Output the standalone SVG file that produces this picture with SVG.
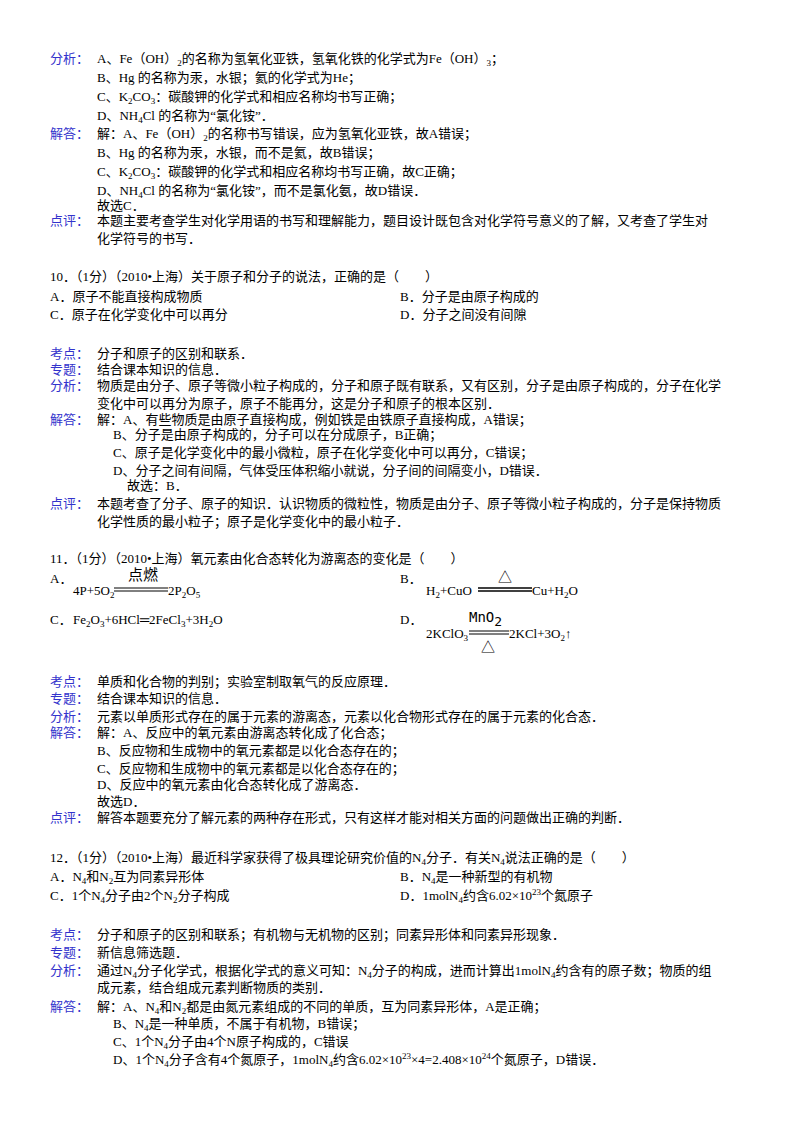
<svg xmlns="http://www.w3.org/2000/svg" width="800" height="1132" viewBox="0 0 800 1132">
<style>
text{font-family:"Liberation Serif","Noto Sans CJK SC",serif;font-size:13px;fill:#000}
.l{fill:#3333cc}
.s{font-size:9px}
</style>
<rect width="800" height="1132" fill="#fff"/>
<g id="q9">
<text x="50" y="63" class="l">分析：</text>
<text x="97" y="63">A、Fe（OH）<tspan class="s" dy="3">2</tspan><tspan dy="-3">的名称为氢氧化亚铁，氢氧化铁的化学式为Fe（OH）</tspan><tspan class="s" dy="3">3</tspan><tspan dy="-3">；</tspan></text>
<text x="97" y="82">B、Hg 的名称为汞，水银；氦的化学式为He；</text>
<text x="97" y="101">C、K<tspan class="s" dy="3">2</tspan><tspan dy="-3">CO</tspan><tspan class="s" dy="3">3</tspan><tspan dy="-3">：碳酸钾的化学式和相应名称均书写正确；</tspan></text>
<text x="97" y="120">D、NH<tspan class="s" dy="3">4</tspan><tspan dy="-3">Cl 的名称为“氯化铵”．</tspan></text>
<text x="50" y="138" class="l">解答：</text>
<text x="97" y="138">解：A、Fe（OH）<tspan class="s" dy="3">2</tspan><tspan dy="-3">的名称书写错误，应为氢氧化亚铁，故A错误；</tspan></text>
<text x="97" y="157">B、Hg 的名称为汞，水银，而不是氦，故B错误；</text>
<text x="97" y="176">C、K<tspan class="s" dy="3">2</tspan><tspan dy="-3">CO</tspan><tspan class="s" dy="3">3</tspan><tspan dy="-3">：碳酸钾的化学式和相应名称均书写正确，故C正确；</tspan></text>
<text x="97" y="195">D、NH<tspan class="s" dy="3">4</tspan><tspan dy="-3">Cl 的名称为“氯化铵”，而不是氯化氨，故D错误．</tspan></text>
<text x="97" y="210">故选C．</text>
<text x="50" y="225" class="l">点评：</text>
<text x="97" y="225">本题主要考查学生对化学用语的书写和理解能力，题目设计既包含对化学符号意义的了解，又考查了学生对</text>
<text x="97" y="243">化学符号的书写．</text>
</g>
<g id="q10">
<text x="50" y="281">10．（1分）（2010•上海）关于原子和分子的说法，正确的是（　　）</text>
<text x="50" y="301">A．原子不能直接构成物质</text>
<text x="400" y="301">B．分子是由原子构成的</text>
<text x="50" y="319">C．原子在化学变化中可以再分</text>
<text x="400" y="319">D．分子之间没有间隙</text>
<text x="50" y="358" class="l">考点：</text>
<text x="97" y="358">分子和原子的区别和联系．</text>
<text x="50" y="374" class="l">专题：</text>
<text x="97" y="374">结合课本知识的信息．</text>
<text x="50" y="390" class="l">分析：</text>
<text x="97" y="390">物质是由分子、原子等微小粒子构成的，分子和原子既有联系，又有区别，分子是由原子构成的，分子在化学</text>
<text x="97" y="408">变化中可以再分为原子，原子不能再分，这是分子和原子的根本区别．</text>
<text x="50" y="424" class="l">解答：</text>
<text x="97" y="424">解：A、有些物质是由原子直接构成，例如铁是由铁原子直接构成，A错误；</text>
<text x="113" y="439">B、分子是由原子构成的，分子可以在分成原子，B正确；</text>
<text x="113" y="457">C、原子是化学变化中的最小微粒，原子在化学变化中可以再分，C错误；</text>
<text x="113" y="475">D、分子之间有间隔，气体受压体积缩小就说，分子间的间隔变小，D错误．</text>
<text x="127" y="490">故选：B．</text>
<text x="50" y="508" class="l">点评：</text>
<text x="97" y="508">本题考查了分子、原子的知识．认识物质的微粒性，物质是由分子、原子等微小粒子构成的，分子是保持物质</text>
<text x="97" y="526">化学性质的最小粒子；原子是化学变化中的最小粒子．</text>
</g>
<g id="q11">
<text x="50" y="563">11．（1分）（2010•上海）氧元素由化合态转化为游离态的变化是（　　）</text>
<text x="50" y="583">A．</text>
<text x="73" y="595">4P+5O<tspan class="s" dy="3">2</tspan></text>
<text x="128" y="580" style="font-size:15px">点燃</text>
<line x1="114" y1="588" x2="168" y2="588" stroke="#000" stroke-width="1"/>
<line x1="114" y1="591" x2="168" y2="591" stroke="#000" stroke-width="1"/>
<text x="168" y="595">2P<tspan class="s" dy="3">2</tspan><tspan dy="-3">O</tspan><tspan class="s" dy="3">5</tspan></text>
<text x="400" y="583">B．</text>
<text x="426" y="595">H<tspan class="s" dy="3">2</tspan><tspan dy="-3">+CuO</tspan></text>
<text x="498" y="582" style="font-size:14px">△</text>
<line x1="478" y1="588" x2="532" y2="588" stroke="#000" stroke-width="1.5"/>
<line x1="478" y1="591" x2="532" y2="591" stroke="#000" stroke-width="1.5"/>
<text x="532" y="595">Cu+H<tspan class="s" dy="3">2</tspan><tspan dy="-3">O</tspan></text>
<text x="50" y="624">C．</text>
<text x="73" y="624">Fe<tspan class="s" dy="3">2</tspan><tspan dy="-3">O</tspan><tspan class="s" dy="3">3</tspan><tspan dy="-3">+6HCl═2FeCl</tspan><tspan class="s" dy="3">3</tspan><tspan dy="-3">+3H</tspan><tspan class="s" dy="3">2</tspan><tspan dy="-3">O</tspan></text>
<text x="400" y="624">D．</text>
<text x="469" y="622" style="font-family:'DejaVu Sans Mono',monospace;font-size:14px">MnO<tspan class="s" dy="4" style="font-size:13px">2</tspan></text>
<text x="426" y="638">2KClO<tspan class="s" dy="3">3</tspan></text>
<line x1="469" y1="631" x2="509" y2="631" stroke="#000" stroke-width="1"/>
<line x1="469" y1="634" x2="509" y2="634" stroke="#000" stroke-width="1"/>
<text x="481" y="652" style="font-size:14px">△</text>
<text x="509" y="638">2KCl+3O<tspan class="s" dy="3">2</tspan><tspan dy="-3">↑</tspan></text>
<text x="50" y="686" class="l">考点：</text>
<text x="97" y="686">单质和化合物的判别；实验室制取氧气的反应原理．</text>
<text x="50" y="703" class="l">专题：</text>
<text x="97" y="703">结合课本知识的信息．</text>
<text x="50" y="721" class="l">分析：</text>
<text x="97" y="721">元素以单质形式存在的属于元素的游离态，元素以化合物形式存在的属于元素的化合态．</text>
<text x="50" y="737" class="l">解答：</text>
<text x="97" y="737">解：A、反应中的氧元素由游离态转化成了化合态；</text>
<text x="97" y="755">B、反应物和生成物中的氧元素都是以化合态存在的；</text>
<text x="97" y="773">C、反应物和生成物中的氧元素都是以化合态存在的；</text>
<text x="97" y="789">D、反应中的氧元素由化合态转化成了游离态．</text>
<text x="97" y="806">故选D．</text>
<text x="50" y="822" class="l">点评：</text>
<text x="97" y="822">解答本题要充分了解元素的两种存在形式，只有这样才能对相关方面的问题做出正确的判断．</text>
</g>
<g id="q12">
<text x="50" y="862">12．（1分）（2010•上海）最近科学家获得了极具理论研究价值的N<tspan class="s" dy="3">4</tspan><tspan dy="-3">分子．有关N</tspan><tspan class="s" dy="3">4</tspan><tspan dy="-3">说法正确的是（　　）</tspan></text>
<text x="50" y="881">A．N<tspan class="s" dy="3">4</tspan><tspan dy="-3">和N</tspan><tspan class="s" dy="3">2</tspan><tspan dy="-3">互为同素异形体</tspan></text>
<text x="400" y="881">B．N<tspan class="s" dy="3">4</tspan><tspan dy="-3">是一种新型的有机物</tspan></text>
<text x="50" y="900">C．1个N<tspan class="s" dy="3">4</tspan><tspan dy="-3">分子由2个N</tspan><tspan class="s" dy="3">2</tspan><tspan dy="-3">分子构成</tspan></text>
<text x="400" y="900">D．1molN<tspan class="s" dy="3">4</tspan><tspan dy="-3">约含6.02×10</tspan><tspan class="s" dy="-5">23</tspan><tspan dy="5">个氮原子</tspan></text>
<text x="50" y="939" class="l">考点：</text>
<text x="97" y="939">分子和原子的区别和联系；有机物与无机物的区别；同素异形体和同素异形现象．</text>
<text x="50" y="957" class="l">专题：</text>
<text x="97" y="957">新信息筛选题．</text>
<text x="50" y="975" class="l">分析：</text>
<text x="97" y="975">通过N<tspan class="s" dy="3">4</tspan><tspan dy="-3">分子化学式，根据化学式的意义可知：N</tspan><tspan class="s" dy="3">4</tspan><tspan dy="-3">分子的构成，进而计算出1molN</tspan><tspan class="s" dy="3">4</tspan><tspan dy="-3">约含有的原子数；物质的组</tspan></text>
<text x="97" y="992">成元素，结合组成元素判断物质的类别．</text>
<text x="50" y="1011" class="l">解答：</text>
<text x="97" y="1011">解：A、N<tspan class="s" dy="3">4</tspan><tspan dy="-3">和N</tspan><tspan class="s" dy="3">2</tspan><tspan dy="-3">都是由氮元素组成的不同的单质，互为同素异形体，A是正确；</tspan></text>
<text x="113" y="1028">B、N<tspan class="s" dy="3">4</tspan><tspan dy="-3">是一种单质，不属于有机物，B错误；</tspan></text>
<text x="113" y="1046">C、1个N<tspan class="s" dy="3">4</tspan><tspan dy="-3">分子由4个N原子构成的，C错误</tspan></text>
<text x="113" y="1064">D、1个N<tspan class="s" dy="3">4</tspan><tspan dy="-3">分子含有4个氮原子，1molN</tspan><tspan class="s" dy="3">4</tspan><tspan dy="-3">约含6.02×10</tspan><tspan class="s" dy="-5">23</tspan><tspan dy="5">×4=2.408×10</tspan><tspan class="s" dy="-5">24</tspan><tspan dy="5">个氮原子，D错误．</tspan></text>
</g>
</svg>
